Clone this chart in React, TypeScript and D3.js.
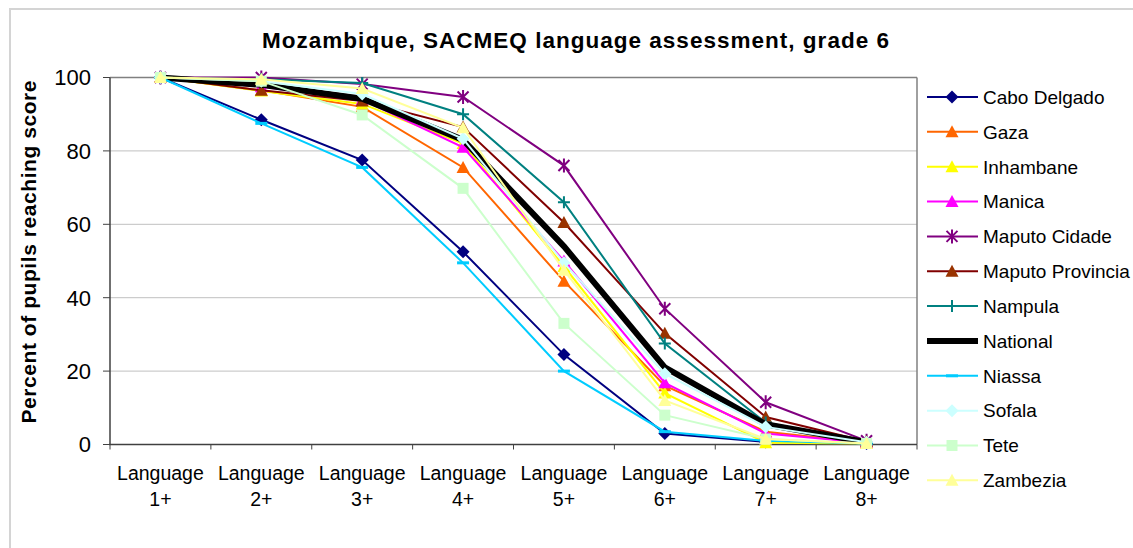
import React from "react";
import * as d3 from "d3";

const categories = ["1+", "2+", "3+", "4+", "5+", "6+", "7+", "8+"];
const yTicks = [0, 20, 40, 60, 80, 100];

const caboDelgado = [100, 88.5, 77.5, 52.5, 24.5, 3.0, 0.7, 0.3];
const gaza = [100, 96.5, 92, 75.5, 44.5, 16, 3.5, 0.5];
const inhambane = [100, 96.3, 92.8, 82, 48.5, 14, 0.5, 0.3];
const manica = [100, 97.5, 94, 81, 50, 16.8, 3.0, 0.5];
const maputoCidade = [100, 100, 98.2, 94.7, 76, 37, 11.5, 1];
const maputoProvincia = [100, 96.5, 93.6, 86.5, 60.5, 30.3, 7.5, 0.8];
const nampula = [100, 99.5, 98.5, 90, 66, 27.5, 6, 0.5];
const national = [100, 98, 94.2, 83, 54, 21, 5.5, 0.6];
const niassa = [100, 87.5, 75.5, 49.5, 20, 3.5, 1, 0.3];
const sofala = [100, 99, 95.5, 83.3, 49.5, 19.3, 4.8, 0.6];
const tete = [100, 99, 89.8, 69.8, 33, 8, 1.5, 0.3];
const zambezia = [100, 99.5, 97, 86.3, 47.5, 12, 1.5, 0.3];

type Marker = "diamond" | "triangle" | "star" | "plus" | "dash" | "square" | "none";
interface Series { name: string; values: number[]; color: string; fill: string; marker: Marker; width: number; }

const series: Series[] = [
  { name: "Cabo Delgado", values: caboDelgado, color: "#000080", fill: "#000080", marker: "diamond", width: 2 },
  { name: "Gaza", values: gaza, color: "#FF6600", fill: "#FF6600", marker: "triangle", width: 2 },
  { name: "Inhambane", values: inhambane, color: "#FFFF00", fill: "#FFFF00", marker: "triangle", width: 2 },
  { name: "Manica", values: manica, color: "#FF00FF", fill: "#FF00FF", marker: "triangle", width: 2 },
  { name: "Maputo Cidade", values: maputoCidade, color: "#800080", fill: "#800080", marker: "star", width: 2 },
  { name: "Maputo Provincia", values: maputoProvincia, color: "#800000", fill: "#993300", marker: "triangle", width: 2 },
  { name: "Nampula", values: nampula, color: "#008080", fill: "#008080", marker: "plus", width: 2 },
  { name: "National", values: national, color: "#000000", fill: "#000000", marker: "none", width: 6 },
  { name: "Niassa", values: niassa, color: "#00CCFF", fill: "#00CCFF", marker: "dash", width: 2 },
  { name: "Sofala", values: sofala, color: "#CCFFFF", fill: "#CCFFFF", marker: "diamond", width: 2 },
  { name: "Tete", values: tete, color: "#CCFFCC", fill: "#CCFFCC", marker: "square", width: 2 },
  { name: "Zambezia", values: zambezia, color: "#FFFF99", fill: "#FFFF99", marker: "triangle", width: 2 },
];

const symDiamond = { draw(ctx: any) { ctx.moveTo(0, -6.5); ctx.lineTo(6.5, 0); ctx.lineTo(0, 6.5); ctx.lineTo(-6.5, 0); ctx.closePath(); } };
const symTriangle = { draw(ctx: any) { ctx.moveTo(0, -6.5); ctx.lineTo(6.5, 5.5); ctx.lineTo(-6.5, 5.5); ctx.closePath(); } };
const symSquare = { draw(ctx: any) { ctx.moveTo(-5.5, -5.5); ctx.lineTo(5.5, -5.5); ctx.lineTo(5.5, 5.5); ctx.lineTo(-5.5, 5.5); ctx.closePath(); } };
const symDash = { draw(ctx: any) { ctx.moveTo(-6, -1.5); ctx.lineTo(6, -1.5); ctx.lineTo(6, 1.5); ctx.lineTo(-6, 1.5); ctx.closePath(); } };
const symPlus = { draw(ctx: any) { ctx.moveTo(-6, 0); ctx.lineTo(6, 0); ctx.moveTo(0, -6); ctx.lineTo(0, 6); } };
const symStar = { draw(ctx: any) { ctx.moveTo(-5.5, -5.5); ctx.lineTo(5.5, 5.5); ctx.moveTo(5.5, -5.5); ctx.lineTo(-5.5, 5.5); ctx.moveTo(0, -7); ctx.lineTo(0, 7); } };

const symbolFor = (m: Marker) => {
  const t = m === "diamond" ? symDiamond : m === "triangle" ? symTriangle : m === "square" ? symSquare : m === "dash" ? symDash : m === "plus" ? symPlus : symStar;
  return d3.symbol().type(t as any)() as string;
};
const isStroked = (m: Marker) => m === "plus" || m === "star";

const FONT = "'Liberation Sans', Arial, Helvetica, sans-serif";

export default function App() {
  const W = 1133, H = 548;
  const left = 110, right = 917, top = 77.5, bottom = 444.5;
  const x = d3.scaleBand<string>().domain(categories).range([left, right]);
  const y = d3.scaleLinear().domain([0, 100]).range([bottom, top]);
  const cx = (c: string) => (x(c) as number) + x.bandwidth() / 2;
  const line = d3.line<number>().x((_, i) => cx(categories[i])).y((v) => y(v));

  const legendX = 927, legendY0 = 97, legendStep = 34.85;

  return (
    <div style={{ position: "absolute", left: 0, top: 0 }}>
      <svg width={W} height={H} style={{ display: "block", background: "#fff" }} fontFamily={FONT}>
        <rect x={10} y={9} width={1140} height={560} fill="#fff" stroke="#d4d4d4" strokeWidth={2} />
        <text x={575.5} y={48} textAnchor="middle" fontSize={22.5} fontWeight="bold" textLength={627} lengthAdjust="spacing">
          Mozambique, SACMEQ language assessment, grade 6
        </text>
        {yTicks.filter((t) => t > 0 && t < 100).map((t) => (
          <line key={"g" + t} x1={left} x2={right} y1={y(t)} y2={y(t)} stroke="#c0c0c0" strokeWidth={1} />
        ))}
        <line x1={left} x2={right} y1={y(100)} y2={y(100)} stroke="#808080" strokeWidth={1.5} />
        <line x1={right} x2={right} y1={top} y2={bottom} stroke="#808080" strokeWidth={1.5} />
        <line x1={left} x2={left} y1={top} y2={bottom} stroke="#404040" strokeWidth={1.5} />
        <line x1={left - 1} x2={right} y1={bottom} y2={bottom} stroke="#404040" strokeWidth={1.5} />
        {yTicks.map((t) => (
          <g key={"yt" + t}>
            <line x1={left - 7} x2={left} y1={y(t)} y2={y(t)} stroke="#404040" strokeWidth={1} />
            <text x={91} y={y(t)} dy="0.36em" textAnchor="end" fontSize={22}>{t}</text>
          </g>
        ))}
        {categories.map((c, i) => (
          <line key={"xt" + i} x1={x(c)} x2={x(c)} y1={bottom} y2={bottom + 5} stroke="#404040" strokeWidth={1} />
        ))}
        <line x1={right} x2={right} y1={bottom} y2={bottom + 5} stroke="#404040" strokeWidth={1} />
        {categories.map((c) => (
          <text key={"xl" + c} x={cx(c)} textAnchor="middle" fontSize={19.5}>
            <tspan x={cx(c)} y={480}>Language</tspan>
            <tspan x={cx(c)} y={506}>{c}</tspan>
          </text>
        ))}
        <text transform="translate(36,252) rotate(-90)" textAnchor="middle" fontSize={21} fontWeight="bold" textLength={343} lengthAdjust="spacing">
          Percent of pupils reaching score
        </text>
        {series.map((s) => (
          <g key={s.name}>
            <path d={line(s.values) as string} fill="none" stroke={s.color} strokeWidth={s.width} strokeLinejoin="miter" />
            {s.marker !== "none" && s.values.map((v, i) => (
              <path key={i} d={symbolFor(s.marker)} transform={`translate(${cx(categories[i])},${y(v)})`}
                fill={isStroked(s.marker) ? "none" : s.fill}
                stroke={isStroked(s.marker) ? s.color : "none"} strokeWidth={2} />
            ))}
          </g>
        ))}
        {series.map((s, i) => {
          const ly = legendY0 + i * legendStep;
          return (
            <g key={"lg" + s.name}>
              <line x1={legendX} x2={legendX + 51} y1={ly} y2={ly} stroke={s.color} strokeWidth={s.width} />
              {s.marker !== "none" && (
                <path d={symbolFor(s.marker)} transform={`translate(${legendX + 25},${ly})`}
                  fill={isStroked(s.marker) ? "none" : s.fill}
                  stroke={isStroked(s.marker) ? s.color : "none"} strokeWidth={2} />
              )}
              <text x={983} y={ly} dy="0.36em" fontSize={19}>{s.name}</text>
            </g>
          );
        })}
      </svg>
    </div>
  );
}
